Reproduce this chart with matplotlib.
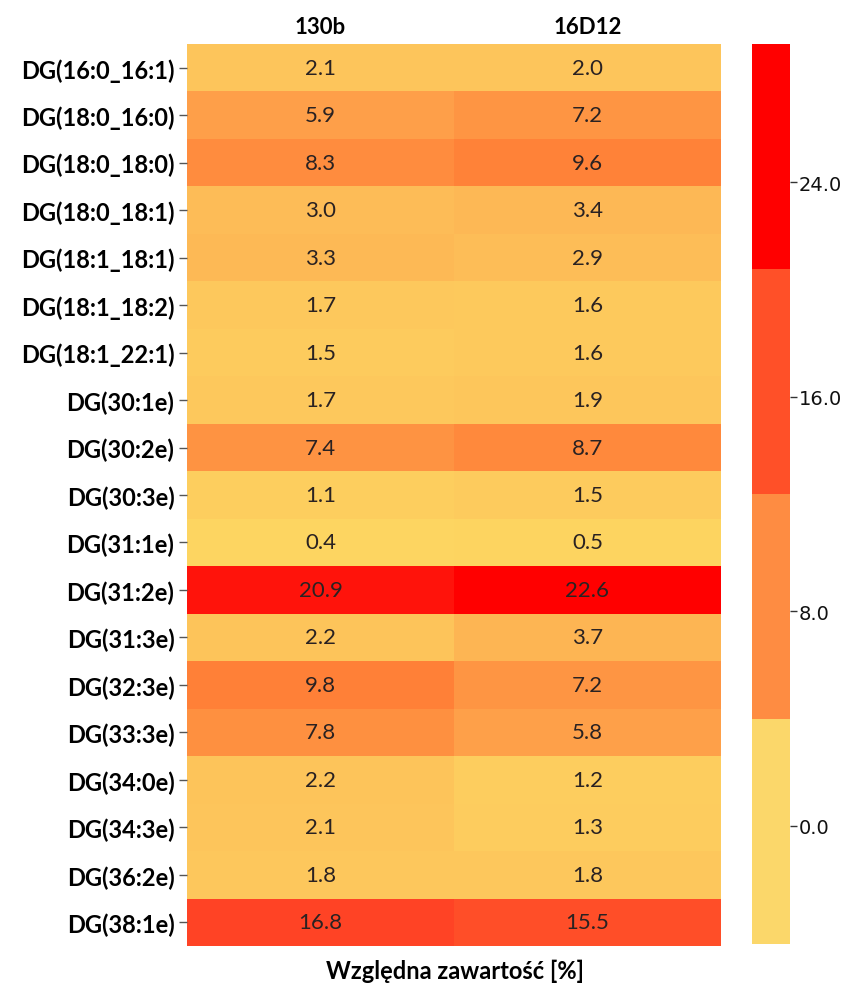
import numpy as np
import matplotlib
matplotlib.use("Agg")
from matplotlib import pyplot as plt
from matplotlib.colors import LinearSegmentedColormap, ListedColormap, BoundaryNorm, Normalize
from matplotlib.colorbar import ColorbarBase

species = ["DG(16:0_16:1)", "DG(18:0_16:0)", "DG(18:0_18:0)", "DG(18:0_18:1)",
           "DG(18:1_18:1)", "DG(18:1_18:2)", "DG(18:1_22:1)", "DG(30:1e)",
           "DG(30:2e)", "DG(30:3e)", "DG(31:1e)", "DG(31:2e)", "DG(31:3e)",
           "DG(32:3e)", "DG(33:3e)", "DG(34:0e)", "DG(34:3e)", "DG(36:2e)",
           "DG(38:1e)"]
strains = ["130b", "16D12"]
val_130b = [2.1, 5.9, 8.3, 3.0, 3.3, 1.7, 1.5, 1.7, 7.4, 1.1, 0.4, 20.9, 2.2,
            9.8, 7.8, 2.2, 2.1, 1.8, 16.8]
val_16d12 = [2.0, 7.2, 9.6, 3.4, 2.9, 1.6, 1.6, 1.9, 8.7, 1.5, 0.5, 22.6, 3.7,
             7.2, 5.8, 1.2, 1.3, 1.8, 15.5]
cbar_ticks = [0.0, 8.0, 16.0, 24.0]

data = np.column_stack([val_130b, val_16d12])
nrow, ncol = data.shape

plt.rcParams['font.family'] = ['Lato', 'DejaVu Sans']

# yellow -> orange -> red for the cells
vmin, vmax = 0.0, 22.6
stops = [(0.0, '#FDD862'), (2.0, '#FDC55B'), (6.0, '#FE9E48'),
         (9.6, '#FF8238'), (16.8, '#FF4325'), (22.6, '#FF0000')]
cmap = LinearSegmentedColormap.from_list(
    'ylor', [((v - vmin) / (vmax - vmin), c) for v, c in stops])

fig = plt.figure(figsize=(8.51, 9.87), dpi=100)
ax = fig.add_axes([0.2197, 0.0405, 0.6275, 0.9139])
ax.pcolormesh(np.arange(ncol + 1), np.arange(nrow + 1), data, cmap=cmap,
              norm=Normalize(vmin, vmax), edgecolor='none')
ax.set_xlim(0, ncol)
ax.set_ylim(nrow, 0)

for r in range(nrow):
    for c in range(ncol):
        ax.text(c + 0.5, r + 0.5, f"{data[r, c]:.1f}", ha='center', va='center',
                fontsize=16, color='#2a2222')

ax.set_yticks(np.arange(nrow) + 0.5)
ax.set_yticklabels(species, fontsize=17, fontweight='bold', color='#000')
ax.tick_params(axis='y', length=6, width=1, color='#555', pad=3)
ax.xaxis.tick_top()
ax.set_xticks(np.arange(ncol) + 0.5)
ax.set_xticklabels(strains, fontsize=16, fontweight='bold', color='#000')
ax.tick_params(axis='x', length=0, pad=5)
for s in ax.spines.values():
    s.set_visible(False)

fig.text(0.5346, 0.016, "Względna zawartość [%]", ha='center', va='center',
         fontsize=17, fontweight='bold', color='#000')

# discrete colour key
cax = fig.add_axes([0.8837, 0.0426, 0.0447, 0.9119])
bounds = [-4.4, 3.99, 12.38, 20.76, 29.15]
key = ListedColormap(['#FBD76A', '#FE8C42', '#FF5028', '#FF0000'])
cb = ColorbarBase(cax, cmap=key, norm=BoundaryNorm(bounds, key.N),
                  boundaries=bounds, ticks=cbar_ticks, format='%.1f')
cb.outline.set_visible(False)
cax.minorticks_off()
cax.tick_params(length=5, width=1, color='#333', pad=1, labelsize=14)
for t in cax.get_yticklabels():
    t.set_fontfamily('DejaVu Sans')
    t.set_color('#111')

fig.savefig("out.png", dpi=100)
